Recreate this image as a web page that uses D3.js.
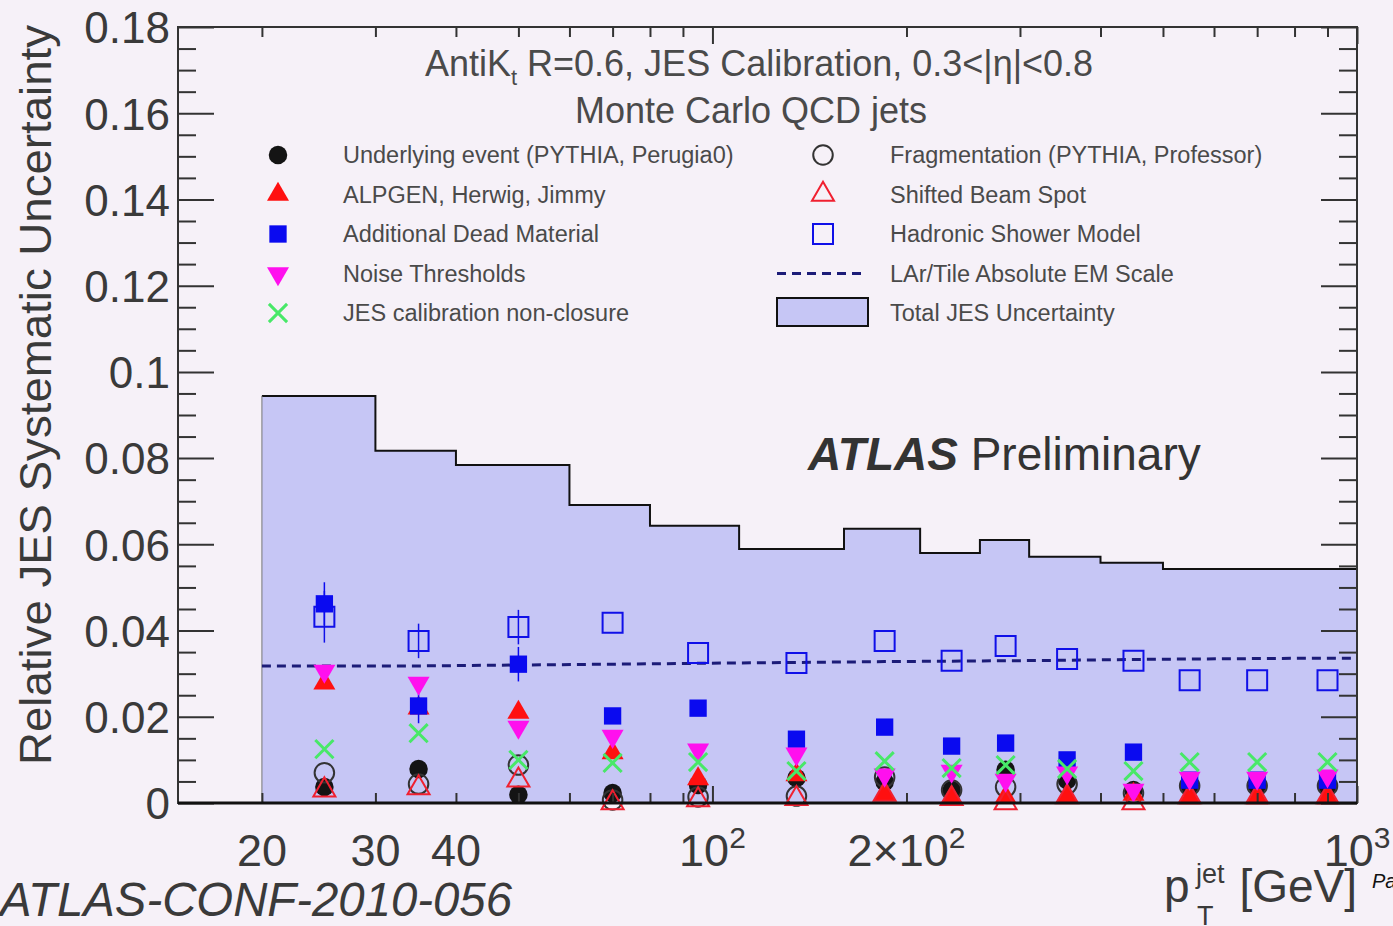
<!DOCTYPE html>
<html>
<head>
<meta charset="utf-8">
<script src="https://cdn.jsdelivr.net/npm/d3@7"></script>
<style>
body { margin: 0; background: #f6f1f8; }
svg { display: block; font-family: "Liberation Sans", Arial, sans-serif; }
</style>
</head>
<body>
<svg id="chart"></svg>
<script>
var W = 1393, H = 926; // canvas
var fLeft = 178, fRight = 1357, fTop = 27, fBottom = 803; // plot frame

// pT bins [GeV]
var binEdges = [20, 30, 40, 60, 80, 110, 160, 210, 260, 310, 400, 500, 600, 800, 1000];
var binCenters = [25, 35, 50, 70, 95, 135, 185, 235, 285, 355, 450, 550, 700, 900];

// Total JES uncertainty (step band)
var totalJES = [0.0944, 0.0817, 0.0784, 0.0691, 0.0643, 0.0589, 0.0636, 0.0580, 0.0610, 0.0571, 0.0557, 0.0543, 0.0543, 0.0543];
// LAr/Tile absolute EM scale (dashed)
var emScale = [0.0318, 0.0318, 0.0320, 0.0322, 0.0324, 0.0326, 0.0328, 0.0329, 0.0330, 0.0331, 0.0333, 0.0334, 0.0335, 0.0336];

// individual components
var underlying   = [0.0037, 0.0079, 0.0019, 0.0023, 0.0042, 0.0058, 0.0049, 0.0030, 0.0077, 0.0053, 0.0030, 0.0040, 0.0040, 0.0040];
var fragment     = [0.0070, 0.0044, 0.0088, 0.0007, 0.0014, 0.0016, 0.0060, 0.0030, 0.0037, 0.0044, 0.0023, 0.0040, 0.0040, 0.0040];
var alpgen       = [0.0278, 0.0220, 0.0210, 0.0116, 0.0056, 0.0065, 0.0019, 0.0012, 0.0014, 0.0016, 0.0020, 0.0012, 0.0012, 0.0012];
var beamSpot     = [0.0030, 0.0035, 0.0053, 0.0000, 0.0007, 0.0010, 0.0020, 0.0010, 0.0000, 0.0014, 0.0000, 0.0014, 0.0014, 0.0014];
var deadMaterial = [0.0462, 0.0225, 0.0322, 0.0202, 0.0220, 0.0148, 0.0176, 0.0132, 0.0139, 0.0100, 0.0118, 0.0053, 0.0053, 0.0053];
var deadErr      = [0.0050, 0.0040, 0.0040, 0, 0, 0, 0, 0, 0, 0, 0, 0, 0, 0];
var hadShower    = [0.0432, 0.0376, 0.0408, 0.0418, 0.0348, 0.0325, 0.0376, 0.0330, 0.0364, 0.0334, 0.0330, 0.0285, 0.0285, 0.0285];
var hadErr       = [0.0060, 0.0040, 0.0040, 0, 0, 0, 0, 0, 0, 0, 0, 0, 0, 0];
var noise        = [0.0306, 0.0278, 0.0176, 0.0155, 0.0123, 0.0114, 0.0065, 0.0074, 0.0053, 0.0070, 0.0030, 0.0058, 0.0058, 0.0063];
var nonClosure   = [0.0125, 0.0162, 0.0100, 0.0093, 0.0095, 0.0074, 0.0097, 0.0081, 0.0088, 0.0079, 0.0074, 0.0095, 0.0095, 0.0095];

// axis ticks
var yMajor = [0, 0.02, 0.04, 0.06, 0.08, 0.1, 0.12, 0.14, 0.16, 0.18];
var xMinor = [20, 30, 40, 50, 60, 70, 80, 90, 200, 300, 400, 500, 600, 700, 800, 900];
var xMajor = [100, 1000];
var xLabelVals = [20, 30, 40, 100, 200, 1000];
var xLabelBase = ["20", "30", "40", "10", "2\u00d710", "10"];
var xLabelExp  = ["", "", "", "2", "2", "3"];

var bandFill = "#c6c6f5";
var textCol = "#3a3a3a";

var svg = d3.select("#chart").attr("width", W).attr("height", H);
svg.append("rect").attr("width", W).attr("height", H).attr("fill", "#f6f1f8");

var x = d3.scaleLog().domain([14.82, 1000]).range([fLeft, fRight]);
var y = d3.scaleLinear().domain([0, 0.18]).range([fBottom, fTop]);

// Total JES band
var band = binEdges.slice(0, -1).map(function(e, i) { return { x: e, v: totalJES[i] }; });
band.push({ x: binEdges[binEdges.length - 1], v: totalJES[totalJES.length - 1] });

svg.append("path").datum(band)
  .attr("fill", bandFill)
  .attr("d", d3.area().curve(d3.curveStepAfter)
    .x(function(d) { return x(d.x); }).y0(y(0)).y1(function(d) { return y(d.v); }));
svg.append("path").datum(band)
  .attr("fill", "none").attr("stroke", "#111").attr("stroke-width", 2)
  .attr("d", d3.line().curve(d3.curveStepAfter)
    .x(function(d) { return x(d.x); }).y(function(d) { return y(d.v); }));
svg.append("line")
  .attr("x1", x(binEdges[0])).attr("x2", x(binEdges[0]))
  .attr("y1", y(0)).attr("y2", y(totalJES[0]))
  .attr("stroke", "#777").attr("stroke-width", 1);

// EM scale dashed line
var emPts = [{ x: binEdges[0], v: emScale[0] }];
binCenters.forEach(function(c, i) { emPts.push({ x: c, v: emScale[i] }); });
emPts.push({ x: binEdges[binEdges.length - 1], v: emScale[emScale.length - 1] });
svg.append("path").datum(emPts)
  .attr("fill", "none").attr("stroke", "#1c1c78").attr("stroke-width", 3)
  .attr("stroke-dasharray", "9,6")
  .attr("d", d3.line().x(function(d) { return x(d.x); }).y(function(d) { return y(d.v); }));

// symbol shapes
var symX = {
  draw: function(ctx, size) {
    var r = Math.sqrt(size) / 2;
    ctx.moveTo(-r, -r); ctx.lineTo(r, r);
    ctx.moveTo(r, -r); ctx.lineTo(-r, r);
  }
};

// drawing order follows the overlaps seen in the plot
var series = [
  { name: "Hadronic Shower Model", vals: hadShower, err: hadErr, type: d3.symbolSquare, size: 400, fill: "none", stroke: "#1010e8", rot: 0, col: 1, row: 2 },
  { name: "Underlying event (PYTHIA, Perugia0)", vals: underlying, type: d3.symbolCircle, size: 270, fill: "#141414", stroke: "none", rot: 0, col: 0, row: 0 },
  { name: "Fragmentation (PYTHIA, Professor)", vals: fragment, type: d3.symbolCircle, size: 300, fill: "none", stroke: "#333", rot: 0, col: 1, row: 0 },
  { name: "ALPGEN, Herwig, Jimmy", vals: alpgen, type: d3.symbolTriangle, size: 210, fill: "#ff1010", stroke: "none", rot: 0, col: 0, row: 1 },
  { name: "Shifted Beam Spot", vals: beamSpot, type: d3.symbolTriangle, size: 210, fill: "none", stroke: "#f02030", rot: 0, col: 1, row: 1 },
  { name: "Additional Dead Material", vals: deadMaterial, err: deadErr, type: d3.symbolSquare, size: 300, fill: "#0a0af0", stroke: "none", rot: 0, col: 0, row: 2 },
  { name: "Noise Thresholds", vals: noise, type: d3.symbolTriangle, size: 210, fill: "#ff10ee", stroke: "none", rot: 180, col: 0, row: 3 },
  { name: "JES calibration non-closure", vals: nonClosure, type: symX, size: 330, fill: "none", stroke: "#48e868", rot: 0, col: 0, row: 4 }
];

series.forEach(function(s) {
  var g = svg.append("g");
  if (s.err) {
    var idx = d3.range(s.vals.length).filter(function(i) { return s.err[i] > 0; });
    g.selectAll("line").data(idx).enter().append("line")
      .attr("x1", function(i) { return x(binCenters[i]); })
      .attr("x2", function(i) { return x(binCenters[i]); })
      .attr("y1", function(i) { return y(s.vals[i] + s.err[i]); })
      .attr("y2", function(i) { return y(s.vals[i] - s.err[i]); })
      .attr("stroke", s.stroke === "none" ? s.fill : s.stroke).attr("stroke-width", 1.5);
  }
  g.selectAll("path").data(s.vals).enter().append("path")
    .attr("d", d3.symbol().type(s.type).size(s.size))
    .attr("transform", function(d, i) { return "translate(" + x(binCenters[i]) + "," + y(d) + ") rotate(" + s.rot + ")"; })
    .attr("fill", s.fill)
    .attr("stroke", s.stroke)
    .attr("stroke-width", s.type === symX ? 3 : 2);
});

// axes (ticks pointing inward)
function noDomain(g) { g.select(".domain").remove(); g.selectAll("line").attr("stroke", "#333").attr("stroke-width", 2); }
var yMinor = d3.range(0, 0.1801, 0.005).filter(function(v) { return Math.abs(v / 0.02 - Math.round(v / 0.02)) > 1e-6; });

svg.append("g").attr("transform", "translate(" + fLeft + ",0)")
  .call(d3.axisLeft(y).tickValues(yMajor).tickSize(-36).tickPadding(8)
    .tickFormat(function(d) { return String(+d.toFixed(2)); }))
  .call(noDomain)
  .call(function(g) {
    g.selectAll("text").attr("font-size", 44).attr("fill", textCol)
      .attr("font-family", "Liberation Sans, Arial, sans-serif").attr("dy", "0.36em");
  });
svg.append("g").attr("transform", "translate(" + fLeft + ",0)")
  .call(d3.axisLeft(y).tickValues(yMinor).tickSize(-18).tickFormat(""))
  .call(noDomain);
svg.append("g").attr("transform", "translate(" + fRight + ",0)")
  .call(d3.axisRight(y).tickValues(yMajor).tickSize(-36).tickFormat(""))
  .call(noDomain);
svg.append("g").attr("transform", "translate(" + fRight + ",0)")
  .call(d3.axisRight(y).tickValues(yMinor).tickSize(-18).tickFormat(""))
  .call(noDomain);

svg.append("g").attr("transform", "translate(0," + fBottom + ")")
  .call(d3.axisBottom(x).tickValues(xMinor).tickSize(-10).tickFormat(""))
  .call(noDomain);
svg.append("g").attr("transform", "translate(0," + fBottom + ")")
  .call(d3.axisBottom(x).tickValues(xMajor).tickSize(-17).tickFormat(""))
  .call(noDomain);
svg.append("g").attr("transform", "translate(0," + fTop + ")")
  .call(d3.axisTop(x).tickValues(xMinor).tickSize(-10).tickFormat(""))
  .call(noDomain);
svg.append("g").attr("transform", "translate(0," + fTop + ")")
  .call(d3.axisTop(x).tickValues(xMajor).tickSize(-17).tickFormat(""))
  .call(noDomain);

// frame
svg.append("rect")
  .attr("x", fLeft).attr("y", fTop).attr("width", fRight - fLeft).attr("height", fBottom - fTop)
  .attr("fill", "none").attr("stroke", "#333").attr("stroke-width", 2);
svg.append("line")
  .attr("x1", fLeft).attr("x2", fRight).attr("y1", fBottom).attr("y2", fBottom)
  .attr("stroke", "#111").attr("stroke-width", 3);

// x tick labels
var xl = svg.append("g").selectAll("text").data(xLabelVals).enter().append("text")
  .attr("x", function(d) { return x(d); }).attr("y", 866)
  .attr("text-anchor", "middle").attr("font-size", 45).attr("fill", textCol);
xl.append("tspan").text(function(d, i) { return xLabelBase[i]; });
xl.append("tspan").attr("dy", -18).attr("font-size", 30).text(function(d, i) { return xLabelExp[i]; });

// axis titles
svg.append("text")
  .attr("transform", "translate(51,395) rotate(-90)")
  .attr("text-anchor", "middle").attr("font-size", 44).attr("fill", textCol)
  .attr("textLength", 740).attr("lengthAdjust", "spacingAndGlyphs")
  .text("Relative JES Systematic Uncertainty");

var xt = svg.append("g").attr("fill", textCol);
xt.append("text").attr("x", 1357).attr("y", 902).attr("text-anchor", "end")
  .attr("font-size", 46).text("[GeV]");
xt.append("text").attr("x", 1164).attr("y", 902).attr("font-size", 46).text("p");
xt.append("text").attr("x", 1196).attr("y", 883).attr("font-size", 27).text("jet");
xt.append("text").attr("x", 1197).attr("y", 925).attr("font-size", 27).text("T");

svg.append("text").attr("x", 1372).attr("y", 888)
  .attr("font-size", 20).attr("font-style", "italic").attr("fill", "#111").text("Pa");

svg.append("text").attr("x", 0).attr("y", 916)
  .attr("font-size", 48).attr("font-style", "italic").attr("fill", textCol)
  .attr("textLength", 512).attr("lengthAdjust", "spacingAndGlyphs")
  .text("ATLAS-CONF-2010-056");

// title lines
var t1 = svg.append("text").attr("x", 759).attr("y", 76)
  .attr("text-anchor", "middle").attr("font-size", 36).attr("fill", "#4a4a4a");
t1.append("tspan").text("AntiK");
t1.append("tspan").attr("font-size", 22).attr("dy", 9).text("t");
t1.append("tspan").attr("dy", -9).text(" R=0.6, JES Calibration, 0.3<|\u03b7|<0.8");

svg.append("text").attr("x", 751).attr("y", 123)
  .attr("text-anchor", "middle").attr("font-size", 36).attr("fill", "#4a4a4a")
  .text("Monte Carlo QCD jets");

// ATLAS Preliminary
var atl = svg.append("text").attr("x", 808).attr("y", 470).attr("font-size", 46).attr("fill", "#333");
atl.append("tspan").attr("font-weight", "bold").attr("font-style", "italic").text("ATLAS");
atl.append("tspan").text(" Preliminary");

// legend
var legColX = [278, 823];
var legTextX = [343, 890];
var legRowY = [155, 194.5, 234, 273.5, 313];
var lg = svg.append("g");
series.forEach(function(s) {
  lg.append("path")
    .attr("d", d3.symbol().type(s.type).size(s.size))
    .attr("transform", "translate(" + legColX[s.col] + "," + legRowY[s.row] + ") rotate(" + s.rot + ")")
    .attr("fill", s.fill).attr("stroke", s.stroke)
    .attr("stroke-width", s.type === symX ? 3 : 2);
  lg.append("text").attr("x", legTextX[s.col]).attr("y", legRowY[s.row] + 8)
    .attr("font-size", 23.5).attr("fill", "#4a4a4a").text(s.name);
});
lg.append("line").attr("x1", 777).attr("x2", 867).attr("y1", legRowY[3]).attr("y2", legRowY[3])
  .attr("stroke", "#1c1c78").attr("stroke-width", 3).attr("stroke-dasharray", "9,6");
lg.append("text").attr("x", legTextX[1]).attr("y", legRowY[3] + 8)
  .attr("font-size", 23.5).attr("fill", "#4a4a4a").text("LAr/Tile Absolute EM Scale");
lg.append("rect").attr("x", 777).attr("y", 298).attr("width", 91).attr("height", 28)
  .attr("fill", bandFill).attr("stroke", "#111").attr("stroke-width", 2);
lg.append("text").attr("x", legTextX[1]).attr("y", legRowY[4] + 8)
  .attr("font-size", 23.5).attr("fill", "#4a4a4a").text("Total JES Uncertainty");
</script>
</body>
</html>
